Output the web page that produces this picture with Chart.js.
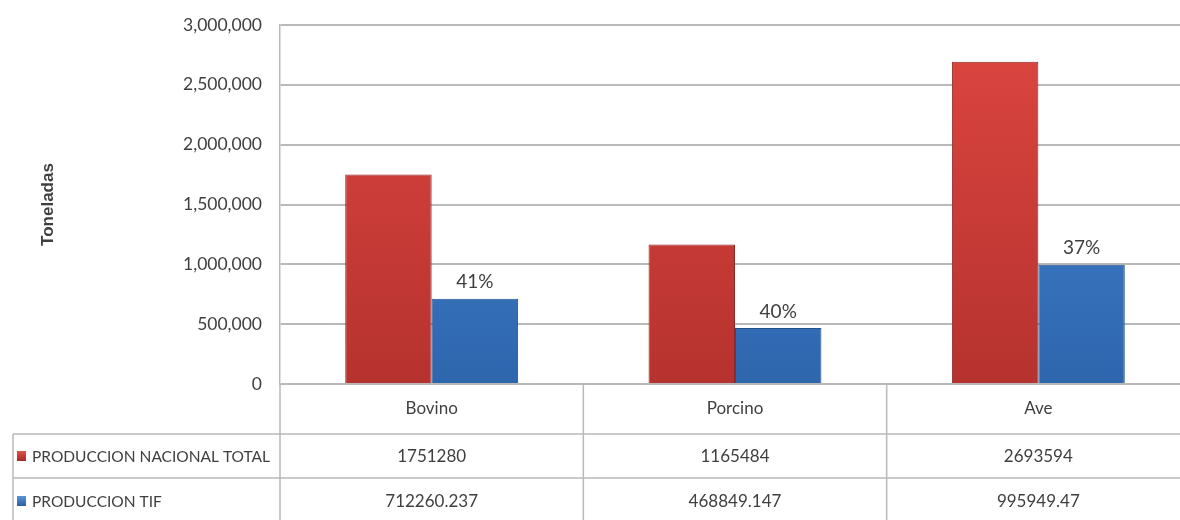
<!DOCTYPE html>
<html>
<head>
<meta charset="utf-8">
<title>Produccion nacional vs TIF</title>
<style>
  body { margin: 0; overflow: hidden; background: #ffffff; }
  #caja { width: 1192px; height: 520px; }
</style>
</head>
<body>
<div id="caja"><canvas id="grafica"></canvas></div>

<script src="https://cdn.jsdelivr.net/npm/chart.js@4/dist/chart.umd.min.js"></script>
<script>
// datos
const categorias = ['Bovino', 'Porcino', 'Ave'];
const nacionalTotal = [1751280, 1165484, 2693594];
const produccionTIF = [712260.237, 468849.147, 995949.47];
const porcentajes = ['41%', '40%', '37%'];
const nombresSerie = ['PRODUCCION NACIONAL TOTAL', 'PRODUCCION TIF'];
const valoresTabla = [['1751280', '1165484', '2693594'], ['712260.237', '468849.147', '995949.47']];

const fuente = 'Lato, "Open Sans", sans-serif';
const gris = '#3f3f3f';
const linea = '#b9b9b9';

function degradado(ctx, arriba, abajo) {
  const area = ctx.chart.chartArea;
  if (!area) return arriba;
  const g = ctx.chart.ctx.createLinearGradient(0, area.top, 0, area.bottom);
  g.addColorStop(0, arriba);
  g.addColorStop(1, abajo);
  return g;
}

// etiquetas de porcentaje sobre las barras azules
const etiquetas = {
  id: 'etiquetas',
  afterDatasetsDraw(chart) {
    const ctx = chart.ctx;
    const meta = chart.getDatasetMeta(1);
    ctx.save();
    ctx.font = '19px ' + fuente;
    ctx.fillStyle = gris;
    ctx.textAlign = 'center';
    ctx.textBaseline = 'bottom';
    meta.data.forEach((bar, i) => {
      ctx.fillText(porcentajes[i], bar.x, bar.y - 7);
    });
    ctx.restore();
  }
};

// tabla de datos bajo el eje x
const tabla = {
  id: 'tabla',
  afterDraw(chart) {
    const ctx = chart.ctx;
    const x = chart.scales.x;
    const area = chart.chartArea;
    const yCat = 434, yFila = 478, yFin = 524, izq = 13;
    const bordes = [];
    for (let i = 0; i <= categorias.length; i++) bordes.push(x.getPixelForValue(i - 0.5));

    ctx.save();
    ctx.strokeStyle = linea;
    ctx.lineWidth = 1.5;
    ctx.beginPath();
    [yCat, yFila].forEach(y => { ctx.moveTo(izq, y); ctx.lineTo(chart.width, y); });
    ctx.moveTo(izq, yCat); ctx.lineTo(izq, yFin);
    bordes.forEach(b => { ctx.moveTo(b, area.bottom); ctx.lineTo(b, yFin); });
    ctx.stroke();

    ctx.fillStyle = gris;
    ctx.font = '17px ' + fuente;
    ctx.textBaseline = 'middle';
    ctx.textAlign = 'center';
    categorias.forEach((c, i) => ctx.fillText(c, x.getPixelForValue(i), (area.bottom + yCat) / 2));

    const centros = [(yCat + yFila) / 2, (yFila + yFin) / 2];
    const colores = [['#e0524c', '#a52a26'], ['#5a95dc', '#2c5e9f']];
    centros.forEach((cy, f) => {
      const g = ctx.createLinearGradient(0, cy - 5, 0, cy + 5);
      g.addColorStop(0, colores[f][0]);
      g.addColorStop(1, colores[f][1]);
      ctx.fillStyle = g;
      ctx.fillRect(17, cy - 5, 9, 10);
      ctx.fillStyle = gris;
      ctx.textAlign = 'left';
      ctx.font = '15.5px ' + fuente;
      ctx.fillText(nombresSerie[f], 32, cy + 1);
      ctx.textAlign = 'center';
      ctx.font = '17px ' + fuente;
      valoresTabla[f].forEach((v, i) => ctx.fillText(v, x.getPixelForValue(i), cy + 1));
    });
    ctx.restore();
  }
};

const chart = new Chart(document.getElementById('grafica'), {
  type: 'bar',
  data: {
    labels: categorias,
    datasets: [{
      label: nombresSerie[0],
      data: nacionalTotal,
      backgroundColor: c => degradado(c, '#dd4641', '#b6322e'),
      borderColor: '#8e2623',
      borderWidth: 1
    }, {
      label: nombresSerie[1],
      data: produccionTIF,
      backgroundColor: c => degradado(c, '#4588d6', '#2e66ad'),
      borderColor: '#25508a',
      borderWidth: 1
    }]
  },
  options: {
    responsive: true,
    maintainAspectRatio: false,
    animation: false,
    layout: { padding: { left: 34, top: 25, bottom: 136, right: 2 } },
    categoryPercentage: 0.57,
    barPercentage: 1.0,
    plugins: { legend: { display: false }, tooltip: { enabled: false } },
    scales: {
      x: { display: false },
      y: {
        min: 0,
        max: 3000000,
        ticks: {
          stepSize: 500000,
          padding: 0,
          color: gris,
          font: { family: fuente, size: 17.5 },
          callback: v => v.toLocaleString('en-US')
        },
        grid: { color: linea, lineWidth: 2, drawTicks: true, tickLength: 18, tickColor: 'rgba(0,0,0,0)' },
        border: { display: true, color: linea, width: 1.5 },
        title: {
          display: true,
          text: 'Toneladas',
          color: gris,
          font: { family: 'Liberation Sans, sans-serif', weight: 'bold', size: 17 }
        },
        afterFit(s) { s.width = 246; }
      }
    }
  },
  plugins: [etiquetas, tabla]
});
</script>
</body>
</html>
